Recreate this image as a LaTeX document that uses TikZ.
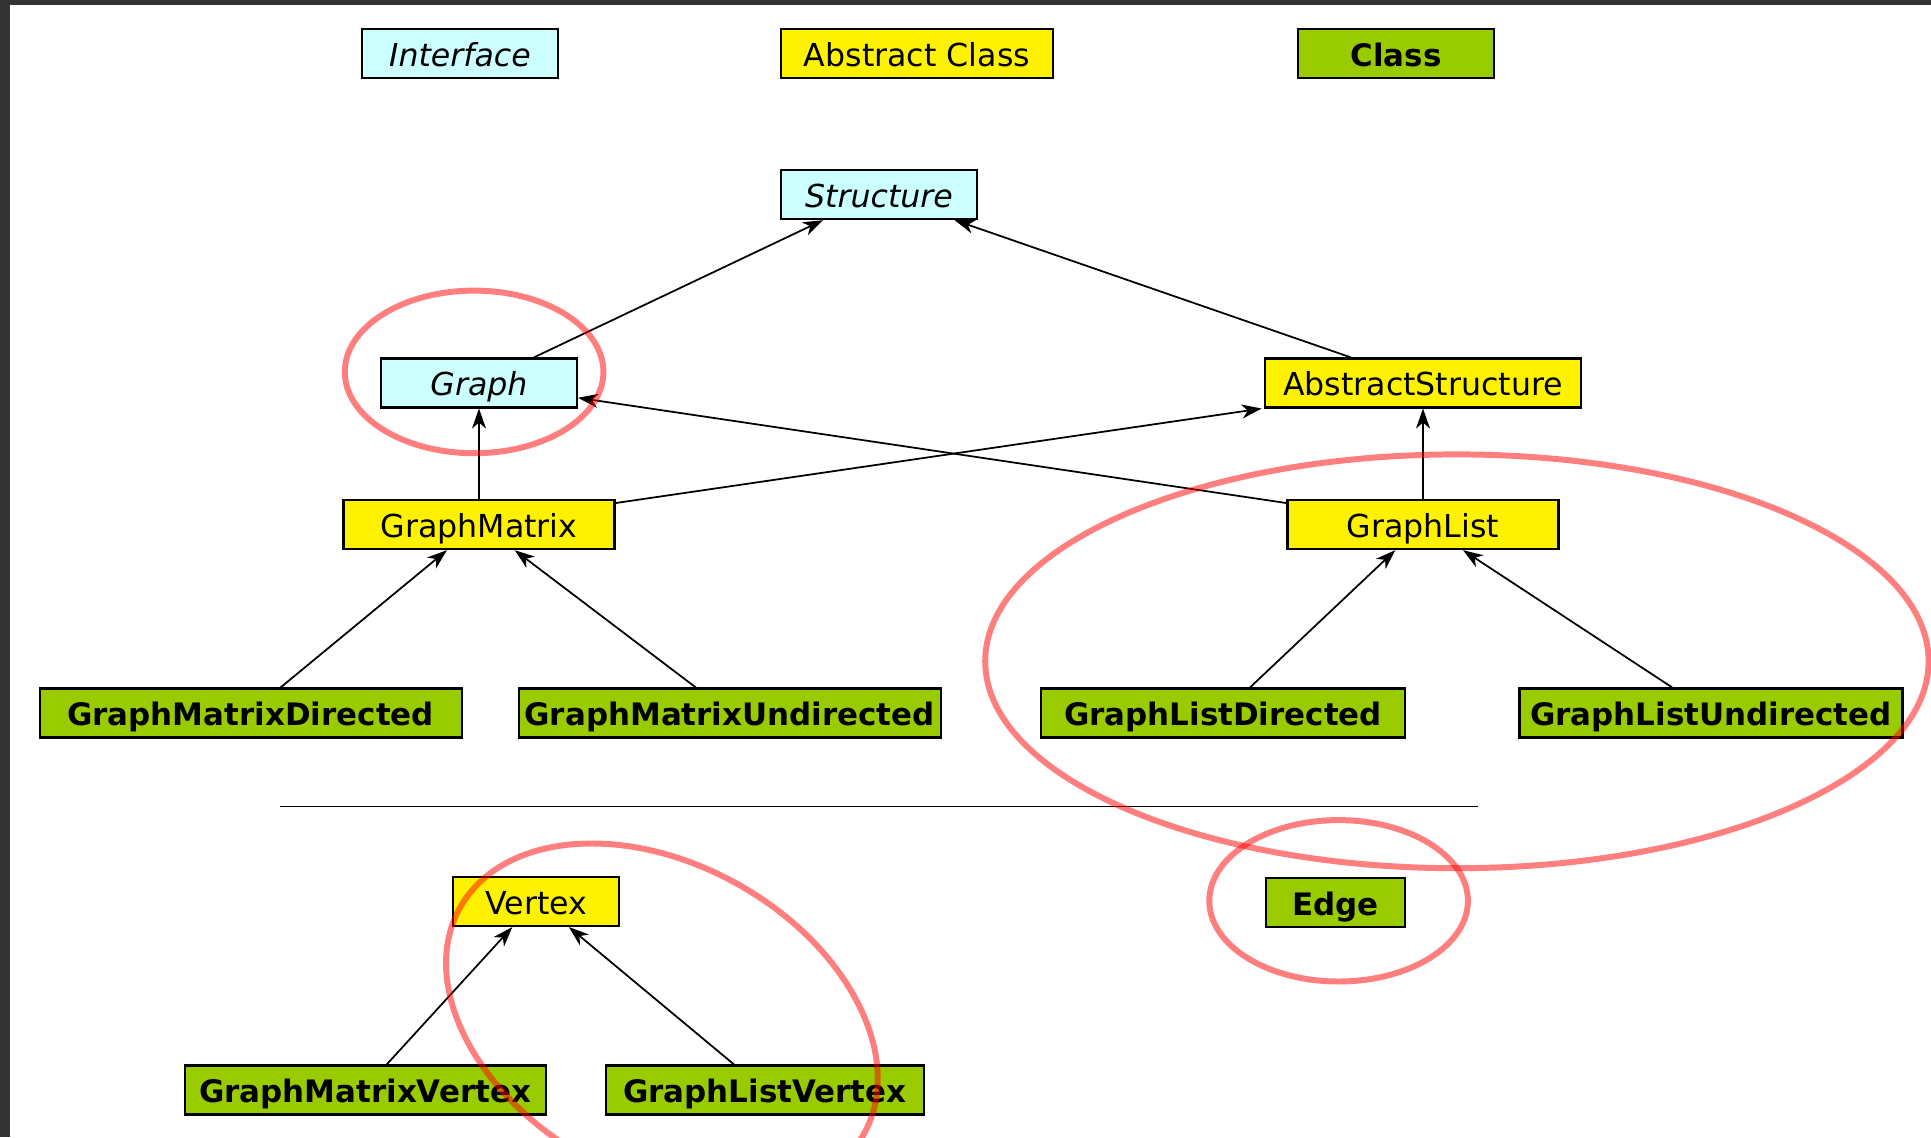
\documentclass[tikz,border=0pt]{standalone}
\usepackage{fontspec}
\setmainfont{DejaVu Sans}
\usepackage{xcolor}
\usetikzlibrary{arrows.meta}

\definecolor{ifacecyan}{RGB}{204,255,255}
\definecolor{classgreen}{RGB}{153,204,0}
\definecolor{framegray}{RGB}{51,51,51}

\tikzset{
 box/.style={draw=black, line width=0.6pt, minimum height=0.49cm, inner sep=0pt,
   text height=7.2pt, text depth=0pt, font=\fontsize{9}{11}\selectfont},
 iface/.style={box, fill=ifacecyan, font=\fontsize{9}{11}\selectfont\itshape},
 abstr/.style={box, fill=yellow},
 cls/.style={box, fill=classgreen, font=\fontsize{8.8}{11}\selectfont\bfseries},
 inh/.style={-{Stealth[length=2mm,width=1.4mm,inset=0.6mm]}, line width=0.5pt},
 ring/.style={draw=red, draw opacity=0.5, line width=1.7pt}
}

\begin{document}
\begin{tikzpicture}
 \path[use as bounding box] (0,0) rectangle (19.31,-11.37);
\fill[framegray] (0,0) rectangle (19.31,-0.05);
\fill[framegray] (0,0) rectangle (0.10,-11.37);

% key
\node[iface, minimum width=1.96cm] (ifacekey) at (4.60,-0.536) {Interface};
\node[abstr, minimum width=2.72cm] (abstrkey) at (9.17,-0.536) {Abstract Class};
\node[cls, minimum width=1.96cm] (clskey) at (13.96,-0.536) {Class};

% hierarchy
\node[iface, minimum width=1.96cm] (structure) at (8.79,-1.946) {Structure};
\node[iface, minimum width=1.96cm] (graph) at (4.79,-3.83) {Graph};
\node[abstr, minimum width=3.165cm] (abstructure) at (14.23,-3.83) {AbstractStructure};
\node[abstr, minimum width=2.71cm] (gmatrix) at (4.79,-5.246) {GraphMatrix};
\node[abstr, minimum width=2.71cm] (glist) at (14.23,-5.246) {GraphList};
\node[cls, minimum width=4.22cm] (gmdir) at (2.506,-7.13) {GraphMatrixDirected};
\node[cls, minimum width=4.22cm] (gmundir) at (7.297,-7.13) {GraphMatrixUndirected};
\node[cls, minimum width=3.645cm] (gldir) at (12.23,-7.13) {GraphListDirected};
\node[cls, minimum width=3.83cm] (glundir) at (17.11,-7.13) {GraphListUndirected};

\draw[line width=0.5pt] (2.795,-8.066) -- (14.78,-8.066);

\node[abstr, minimum width=1.66cm] (vertex) at (5.363,-9.015) {Vertex};
\node[cls, minimum width=1.39cm] (edge) at (13.356,-9.027) {Edge};
\node[cls, minimum width=3.61cm] (gmvertex) at (3.651,-10.9) {GraphMatrixVertex};
\node[cls, minimum width=3.18cm] (glvertex) at (7.648,-10.9) {GraphListVertex};

\foreach \from/\fs/\to/\ts in {graph/0.548/structure/-0.56, abstructure/-0.72/structure/0.757,
  gmdir/0.30/gmatrix/-0.32, gmundir/-0.339/gmatrix/0.357, gldir/0.27/glist/-0.277,
  glundir/-0.388/glist/0.40, gmvertex/0.216/vertex/-0.24, glvertex/-0.308/vertex/0.326}
	\draw[inh] ([xshift=\fs cm]\from.north) -- ([xshift=\ts cm]\to.south);

\draw[inh] (gmatrix) -- (graph);
\draw[inh] (glist) -- (abstructure);
\draw[inh] ([yshift=-0.04cm]gmatrix.north east) -- ([xshift=-0.02cm]abstructure.south west);
\draw[inh] ([yshift=-0.04cm]glist.north west) -- ([yshift=-0.148cm]graph.east);

% marks
\draw[ring] (4.741,-3.719) ellipse [x radius=1.293, y radius=0.813];
\draw[ring] (14.569,-6.613) ellipse [x radius=4.717, y radius=2.069];
\draw[ring] (13.386,-9.008) ellipse [x radius=1.293, y radius=0.807];
\draw[ring, rotate around={-29.4:(6.619,-10.209)}] (6.619,-10.209) ellipse [x radius=2.315, y radius=1.564];

\end{tikzpicture}
\end{document}
